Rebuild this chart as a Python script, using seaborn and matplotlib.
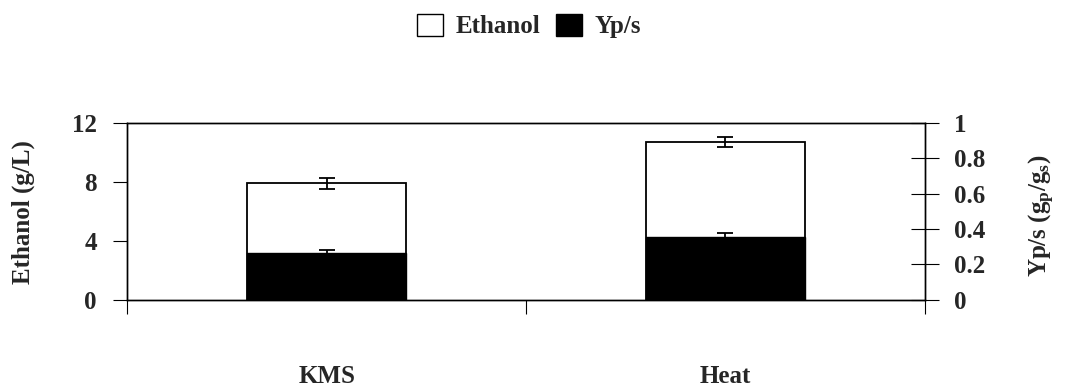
import matplotlib
matplotlib.use("Agg")
import matplotlib.pyplot as plt
import seaborn as sns
import pandas as pd

# Fermentation results per pretreatment
treatments = ["KMS", "Heat"]
ethanol = [7.90, 10.70]          # g/L
ethanol_err = [0.35, 0.35]
yps = [0.263, 0.357]             # g_p/g_s
yps_err = [0.019, 0.022]

sns.set_theme(style="white")
plt.rcParams["font.family"] = ["Liberation Serif", "DejaVu Serif"]
plt.rcParams["font.weight"] = "bold"
plt.rcParams["mathtext.fontset"] = "custom"
plt.rcParams["mathtext.rm"] = "Liberation Serif:bold"
plt.rcParams["mathtext.bf"] = "Liberation Serif:bold"
plt.rcParams["mathtext.it"] = "Liberation Serif:bold"

df = pd.DataFrame({"Treatment": treatments, "Ethanol": ethanol, "Yps": yps})

fig = plt.figure(figsize=(10.66, 3.88), dpi=100)
ax = fig.add_axes([0.1196, 0.2276, 0.7477, 0.4554])

sns.barplot(data=df, x="Treatment", y="Ethanol", ax=ax, color="white",
            saturation=1, edgecolor="black", linewidth=1.3, width=0.4,
            errorbar=None, zorder=2)
ax.errorbar(range(len(treatments)), ethanol, yerr=ethanol_err, fmt="none",
            ecolor="black", elinewidth=1.3, capsize=5.5, capthick=1.3, zorder=3)

ax2 = ax.twinx()
sns.barplot(data=df, x="Treatment", y="Yps", ax=ax2, color="black",
            saturation=1, edgecolor="black", linewidth=1.0, width=0.4,
            errorbar=None, zorder=2)
ax2.errorbar(range(len(treatments)), yps, yerr=yps_err, fmt="none",
             ecolor="black", elinewidth=1.3, capsize=5.5, capthick=1.3, zorder=3)

fs = 18
for a in (ax, ax2):
    a.set_xlim(-0.5, 1.5)
    for s in a.spines.values():
        s.set_color("black")
        s.set_linewidth(1.0)

ax.set_ylim(0, 12)
ax.set_yticks([0, 4, 8, 12])
ax2.set_ylim(0, 1)
ax2.set_yticks([0, 0.2, 0.4, 0.6, 0.8, 1.0])
ax2.set_yticklabels(["0", "0.2", "0.4", "0.6", "0.8", "1"])

ax.tick_params(axis="y", direction="out", length=10, width=0.8, color="black",
               labelsize=fs, pad=12, left=True)
ax2.tick_params(axis="y", direction="inout", length=19.5, width=0.8,
                color="black", labelsize=fs, pad=11.5, right=True)

# category labels sit under the bars, tick marks at the category boundaries
ax.set_xticks([0, 1])
ax.set_xticklabels(treatments)
ax.tick_params(axis="x", which="major", length=0, labelsize=fs, pad=47)
ax.set_xticks([-0.5, 0.5, 1.5], minor=True)
ax.tick_params(axis="x", which="minor", direction="out", length=10,
               width=0.8, color="black", bottom=True)
ax.set_xlabel("")
ax2.set_xlabel("")
ax.set_ylabel("")
ax2.set_ylabel("")

fig.text(23 / 1066, 1 - 212 / 388, "Ethanol (g/L)", rotation=90, ha="center",
         va="center", fontsize=fs, fontweight="bold")
fig.text(1042 / 1066, 1 - 216 / 388, r"Yp/s (g$_{\rm p}$/g$_{\rm s}$)",
         rotation=90, ha="center", va="center", fontsize=fs, fontweight="bold")

handles = [plt.Rectangle((0, 0), 1, 1, facecolor="white", edgecolor="black", linewidth=1.0),
           plt.Rectangle((0, 0), 1, 1, facecolor="black", edgecolor="black", linewidth=1.0)]
fig.legend(handles, ["Ethanol", "Yp/s"], loc="center",
           bbox_to_anchor=(529 / 1066, 1 - 26 / 388), ncol=2, frameon=False,
           fontsize=fs, handlelength=1.05, handleheight=1.0,
           handletextpad=0.5, columnspacing=0.6)

fig.savefig("out.png", dpi=100)
